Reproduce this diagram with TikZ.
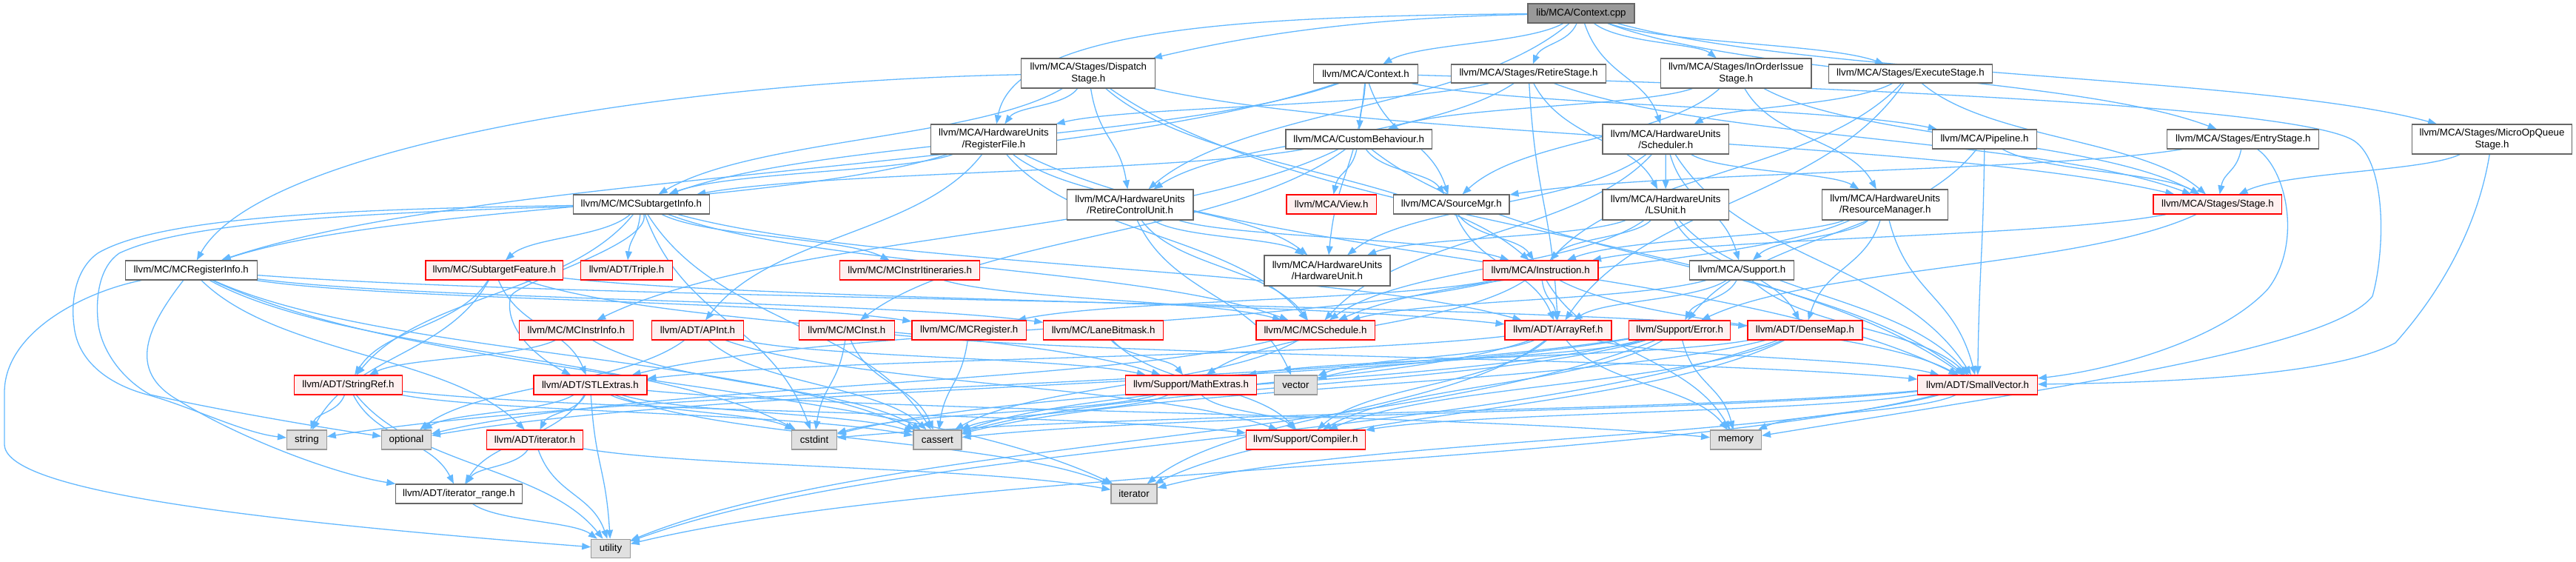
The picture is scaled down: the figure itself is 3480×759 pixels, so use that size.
\documentclass[tikz,border=0pt]{standalone}
\usepackage{fontspec}
\setmainfont{Liberation Sans}
\usetikzlibrary{arrows.meta,calc}
\definecolor{edgeblue}{HTML}{63B8FF}
\definecolor{redfill}{HTML}{FFF0F0}
\definecolor{sysfill}{HTML}{E0E0E0}
\definecolor{sysdraw}{HTML}{999999}
\definecolor{normdraw}{HTML}{666666}
\definecolor{rootfill}{HTML}{999999}
\pgfdeclarelayer{bg}
\pgfsetlayers{bg,main}
\tikzset{
 box/.style={rectangle, inner sep=0pt, line width=1.2pt, align=center, font=\fontsize{13.3}{15.3}\selectfont, text=black},
 wn/.style={box, draw=normdraw, fill=white},
 rn/.style={box, draw=red, fill=redfill},
 gn/.style={box, draw=sysdraw, fill=sysfill},
 rootn/.style={box, draw=normdraw, fill=rootfill},
 edge/.style={draw=edgeblue, line width=1.3pt, -{Triangle[length=12pt,width=9pt]}},
}
\newcommand\nd[6]{\node[#1, minimum width=#4pt, minimum height=#5pt] (#2) at (#3) {#6};}
\newcommand\dep[2]{\draw[edge] let \p1=(#1), \p2=(#2) in (#1) .. controls ({0.75*\x1+0.25*\x2},{0.5*\y1+0.5*\y2}) and ({0.25*\x1+0.75*\x2},{0.5*\y1+0.5*\y2}) .. (#2);}
\begin{document}
\begin{tikzpicture}[x=1pt,y=-1pt]
\useasboundingbox (0,0) rectangle (3480,759);
% row 0
\nd{rootn}{ctxcpp}{2136,18}{144}{26}{lib/MCA/Context.cpp}
% row 1
\nd{wn}{dispatch}{1470.3,99}{181}{40}{llvm/MCA/Stages/Dispatch\\Stage.h}
\nd{wn}{ctxh}{1845,99.5}{140.5}{25}{llvm/MCA/Context.h}
\nd{wn}{retire}{2065,99.5}{208.5}{25}{llvm/MCA/Stages/RetireStage.h}
\nd{wn}{inorder}{2345.3,99}{203.4}{40}{llvm/MCA/Stages/InOrderIssue\\Stage.h}
\nd{wn}{execute}{2581,99.5}{221.5}{25}{llvm/MCA/Stages/ExecuteStage.h}
% row 2
\nd{wn}{regfile}{1342.5,188}{170.7}{40}{llvm/MCA/HardwareUnits\\/RegisterFile.h}
\nd{wn}{custom}{1835.7,188}{197.4}{26}{llvm/MCA/CustomBehaviour.h}
\nd{wn}{sched}{2250.2,188}{170.3}{40}{llvm/MCA/HardwareUnits\\/Scheduler.h}
\nd{wn}{pipeline}{2681,188}{140.4}{26}{llvm/MCA/Pipeline.h}
\nd{wn}{entry}{3030.3,188}{205}{26}{llvm/MCA/Stages/EntryStage.h}
\nd{wn}{microop}{3366.5,188}{215.5}{40}{llvm/MCA/Stages/MicroOpQueue\\Stage.h}
% row 3
\nd{wn}{subinfo}{866.4,276}{184}{26}{llvm/MC/MCSubtargetInfo.h}
\nd{wn}{rcu}{1526.6,276.5}{170.6}{41}{llvm/MCA/HardwareUnits\\/RetireControlUnit.h}
\nd{rn}{view}{1798.7,276}{121.4}{26}{llvm/MCA/View.h}
\nd{wn}{srcmgr}{1960.8,276}{156.2}{26}{llvm/MCA/SourceMgr.h}
\nd{wn}{lsunit}{2250.2,276.5}{170.3}{41}{llvm/MCA/HardwareUnits\\/LSUnit.h}
\nd{wn}{resmgr}{2546.7,276.5}{170.3}{41}{llvm/MCA/HardwareUnits\\/ResourceManager.h}
\nd{rn}{stage}{2995.9,276}{173.8}{26}{llvm/MCA/Stages/Stage.h}
% row 4
\nd{wn}{reginfo}{258.3,365}{177.6}{26}{llvm/MC/MCRegisterInfo.h}
\nd{rn}{subfeat}{667.8,365}{185.6}{26}{llvm/MC/SubtargetFeature.h}
\nd{rn}{triple}{846.5,365}{123.6}{26}{llvm/ADT/Triple.h}
\nd{rn}{itin}{1229.2,365}{189.3}{26}{llvm/MC/MCInstrItineraries.h}
\nd{wn}{hwunit}{1793,365.5}{170}{41}{llvm/MCA/HardwareUnits\\/HardwareUnit.h}
\nd{rn}{instr}{2081.2,365}{155.7}{26}{llvm/MCA/Instruction.h}
\nd{wn}{support}{2353,365}{140.3}{26}{llvm/MCA/Support.h}
% row 5
\nd{rn}{instrinfo}{778.4,446}{154.2}{26}{llvm/MC/MCInstrInfo.h}
\nd{rn}{apint}{942.5,446}{124.3}{26}{llvm/ADT/APInt.h}
\nd{rn}{mcinst}{1143.8,446}{128.8}{26}{llvm/MC/MCInst.h}
\nd{rn}{mcreg}{1309.2,446}{154.6}{26}{llvm/MC/MCRegister.h}
\nd{rn}{lanebit}{1490.6,446}{161.5}{26}{llvm/MC/LaneBitmask.h}
\nd{rn}{mcsched}{1777,446}{160.2}{26}{llvm/MC/MCSchedule.h}
\nd{rn}{arrayref}{2105,446}{143.9}{26}{llvm/ADT/ArrayRef.h}
\nd{rn}{error}{2269.2,446}{137}{26}{llvm/Support/Error.h}
\nd{rn}{densemap}{2438.4,446}{155}{26}{llvm/ADT/DenseMap.h}
% row 6
\nd{rn}{stringref}{470.5,520}{146.5}{26}{llvm/ADT/StringRef.h}
\nd{rn}{stlextras}{797.4,520}{153}{26}{llvm/ADT/STLExtras.h}
\nd{rn}{mathextras}{1609,520}{177}{26}{llvm/Support/MathExtras.h}
\nd{gn}{vector}{1750.4,520}{58}{26}{vector}
\nd{rn}{smallvec}{2671.6,520}{161.5}{26}{llvm/ADT/SmallVector.h}
% row 7
\nd{gn}{string}{414.4,594}{53.6}{26}{string}
\nd{gn}{optional}{549,594}{66.6}{26}{optional}
\nd{rn}{iteratorh}{722.5,594}{130.5}{26}{llvm/ADT/iterator.h}
\nd{gn}{cstdint}{1100,594}{60.5}{26}{cstdint}
\nd{gn}{cassert}{1266.4,594}{65}{26}{cassert}
\nd{rn}{compiler}{1763.8,594}{160.6}{26}{llvm/Support/Compiler.h}
\nd{gn}{memory}{2345,594}{68.8}{26}{memory}
% row 8
\nd{wn}{itrange}{619.9,667}{170.5}{26}{llvm/ADT/iterator\_range.h}
\nd{gn}{iterator}{1532,667}{62}{26}{iterator}
% row 9
\nd{gn}{utility}{825,740.8}{52.4}{25}{utility}

\begin{pgfonlayer}{bg}
\dep{ctxcpp}{ctxh}
\dep{ctxcpp}{retire}
\dep{ctxcpp}{sched}
\dep{ctxcpp}{inorder}
\dep{ctxcpp}{execute}
\dep{ctxcpp}{entry}
\dep{ctxcpp}{microop}
\draw[edge] (ctxcpp) .. controls (1850,24) and (1700,45) .. (dispatch);
\draw[edge] (ctxcpp) .. controls (1700,22) and (1370,35) .. (regfile);
\dep{ctxcpp}{rcu}
% Context.h
\dep{ctxh}{reginfo}
\dep{ctxh}{subinfo}
\dep{ctxh}{custom}
\dep{ctxh}{hwunit}
\dep{ctxh}{pipeline}
\dep{ctxh}{srcmgr}
\draw[edge] (ctxh) .. controls (2400,115) and (3100,140) .. (3180,190) .. controls (3225,220) and (3222,340) .. (3205,400) .. controls (3150,470) and (2800,520) .. (memory);
% DispatchStage
\draw[edge] (dispatch) .. controls (900,110) and (350,200) .. (reginfo);
\dep{dispatch}{subinfo}
\dep{dispatch}{regfile}
\dep{dispatch}{rcu}
\dep{dispatch}{instr}
\dep{dispatch}{stage}
\dep{dispatch}{smallvec}
% RetireStage
\dep{retire}{arrayref}
\dep{retire}{lsunit}
\dep{retire}{regfile}
\dep{retire}{rcu}
\dep{retire}{stage}
% InOrderIssueStage
\dep{inorder}{custom}
\dep{inorder}{resmgr}
\dep{inorder}{srcmgr}
\dep{inorder}{stage}
% ExecuteStage
\dep{execute}{sched}
\dep{execute}{instr}
\dep{execute}{stage}
\dep{execute}{arrayref}
% EntryStage
\dep{entry}{stage}
\dep{entry}{srcmgr}
\draw[edge] (entry) .. controls (3090,230) and (3110,330) .. (3064,390) .. controls (3000,460) and (2850,500) .. (smallvec);
% MicroOpQueueStage
\dep{microop}{stage}
\draw[edge] (microop) .. controls (3350,290) and (3310,380) .. (3236,463) .. controls (3150,510) and (2900,517) .. (smallvec);
% RegisterFile
\dep{regfile}{subinfo}
\dep{regfile}{reginfo}
\dep{regfile}{apint}
\dep{regfile}{mcsched}
\dep{regfile}{hwunit}
\dep{regfile}{smallvec}
% CustomBehaviour
\dep{custom}{view}
\dep{custom}{srcmgr}
\dep{custom}{subinfo}
\dep{custom}{instrinfo}
\dep{custom}{mcinst}
\dep{custom}{smallvec}
% Scheduler
\dep{sched}{lsunit}
\dep{sched}{resmgr}
\dep{sched}{hwunit}
\dep{sched}{mcsched}
\dep{sched}{support}
\dep{sched}{smallvec}
% Pipeline
\dep{pipeline}{stage}
\dep{pipeline}{error}
\dep{pipeline}{smallvec}
% MCSubtargetInfo
\dep{subinfo}{subfeat}
\dep{subinfo}{triple}
\dep{subinfo}{itin}
\dep{subinfo}{arrayref}
\draw[edge] (subinfo) .. controls (880,330) and (700,380) .. (690,400) .. controls (680,440) and (720,480) .. (stlextras);
\dep{subinfo}{stringref}
\dep{subinfo}{mcsched}
\dep{subinfo}{cassert}
\dep{subinfo}{cstdint}
\draw[edge] (subinfo) .. controls (500,282) and (220,290) .. (132,342) .. controls (100,365) and (96,410) .. (100,440) .. controls (105,490) and (150,520) .. (199,533) .. controls (260,550) and (330,585) .. (string);
\draw[edge] (subinfo) .. controls (480,288) and (250,300) .. (161,342) .. controls (135,360) and (128,400) .. (133,440) .. controls (140,480) and (170,515) .. (203,533) .. controls (300,555) and (450,580) .. (optional);
% RetireControlUnit
\dep{rcu}{hwunit}
\dep{rcu}{mcsched}
\dep{rcu}{instr}
\dep{rcu}{vector}
% SourceMgr
\dep{srcmgr}{instr}
\dep{srcmgr}{arrayref}
% LSUnit
\dep{lsunit}{hwunit}
\dep{lsunit}{mcsched}
\dep{lsunit}{instr}
\dep{lsunit}{densemap}
\dep{lsunit}{smallvec}
% ResourceManager
\dep{resmgr}{support}
\dep{resmgr}{instr}
\dep{resmgr}{mcsched}
\dep{resmgr}{densemap}
\dep{resmgr}{smallvec}
% Stage
\dep{stage}{instr}
\dep{stage}{error}
% MCRegisterInfo
\dep{reginfo}{densemap}
\dep{reginfo}{iteratorh}
\draw[edge] (reginfo) .. controls (200,440) and (170,500) .. (240,540) .. controls (320,590) and (450,640) .. (itrange);
\dep{reginfo}{lanebit}
\dep{reginfo}{mcreg}
\dep{reginfo}{cassert}
\dep{reginfo}{cstdint}
\dep{reginfo}{iterator}
\draw[edge] (reginfo) .. controls (110,395) and (6,450) .. (6,530) -- (6,600) .. controls (6,660) and (300,700) .. (utility);
% SubtargetFeature
\dep{subfeat}{arrayref}
\dep{subfeat}{stlextras}
\dep{subfeat}{stringref}
\dep{subfeat}{mathextras}
\dep{subfeat}{string}
% MCInstrItineraries
\dep{itin}{mcsched}
% Instruction
\dep{instr}{arrayref}
\dep{instr}{stlextras}
\dep{instr}{smallvec}
\dep{instr}{mcreg}
\dep{instr}{mathextras}
\dep{instr}{memory}
% Support
\dep{support}{arrayref}
\dep{support}{smallvec}
\dep{support}{mcsched}
\dep{support}{error}
% row 5 headers
\dep{instrinfo}{stringref}
\dep{instrinfo}{cassert}
\dep{apint}{mathextras}
\dep{apint}{compiler}
\dep{apint}{cassert}
\dep{apint}{optional}
\dep{mcinst}{cstdint}
\dep{mcinst}{cassert}
\dep{mcinst}{smallvec}
\dep{mcreg}{cassert}
\dep{lanebit}{mathextras}
\dep{lanebit}{compiler}
\dep{mcsched}{cassert}
\dep{mcsched}{optional}
\dep{arrayref}{stlextras}
\dep{arrayref}{smallvec}
\dep{arrayref}{compiler}
\dep{arrayref}{cassert}
\dep{arrayref}{iterator}
\dep{arrayref}{memory}
\dep{arrayref}{vector}
\dep{error}{compiler}
\dep{error}{cassert}
\dep{error}{cstdint}
\dep{error}{memory}
\dep{error}{optional}
\dep{error}{string}
\dep{error}{utility}
\dep{error}{vector}
\dep{densemap}{compiler}
\dep{densemap}{mathextras}
\dep{densemap}{cassert}
\dep{densemap}{iterator}
\dep{densemap}{utility}
% row 6 headers
\dep{stringref}{itrange}
\dep{stringref}{compiler}
\dep{stringref}{cassert}
\dep{stringref}{string}
\dep{stringref}{utility}
\dep{stlextras}{iteratorh}
\dep{stlextras}{itrange}
\dep{stlextras}{cassert}
\dep{stlextras}{cstdint}
\dep{stlextras}{iterator}
\dep{stlextras}{memory}
\dep{stlextras}{optional}
\dep{stlextras}{utility}
\dep{mathextras}{compiler}
\dep{mathextras}{cassert}
\dep{mathextras}{cstdint}
\dep{smallvec}{compiler}
\dep{smallvec}{cassert}
\dep{smallvec}{cstdint}
\dep{smallvec}{iterator}
\dep{smallvec}{memory}
\dep{smallvec}{utility}
% row 7/8
\dep{iteratorh}{itrange}
\dep{iteratorh}{iterator}
\dep{iteratorh}{utility}
\dep{itrange}{utility}
\end{pgfonlayer}
\end{tikzpicture}
\end{document}
